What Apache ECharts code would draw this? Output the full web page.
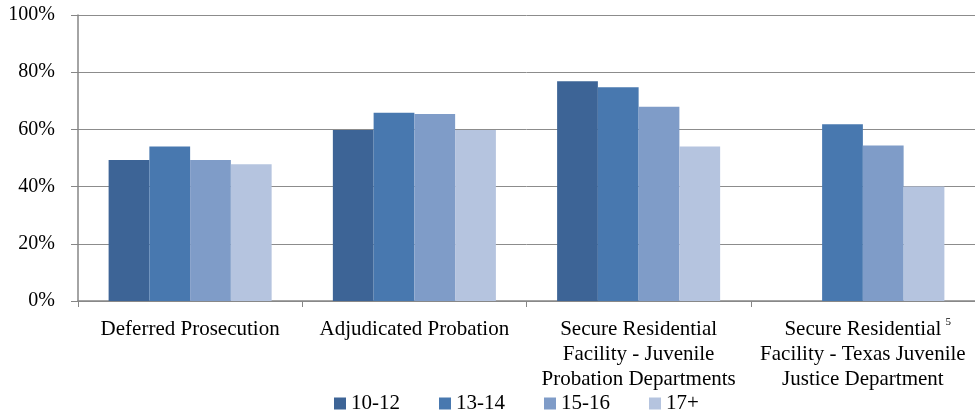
<!DOCTYPE html>
<html>
<head>
<meta charset="utf-8">
<script src="https://cdn.jsdelivr.net/npm/echarts@6/dist/echarts.min.js"></script>
<style>
  html, body { margin: 0; padding: 0; background: #fff; }
  #chart { width: 975px; height: 415px; }
</style>
</head>
<body>
<div id="chart"></div>
<script>
// Share of youth (percent) by placement type and age group
const categories = [
  'Deferred Prosecution',
  'Adjudicated Probation',
  'Secure Residential\nFacility - Juvenile\nProbation Departments',
  '{pad|}Secure Residential{sup|5}\nFacility - Texas Juvenile\nJustice Department'
];
const ageGroups = ['10-12', '13-14', '15-16', '17+'];
const age10to12 = [49.3, 59.8, 76.8, null];
const age13to14 = [54.0, 65.8, 74.7, 61.8];
const age15to16 = [49.3, 65.4, 67.9, 54.4];
const age17plus = [47.8, 59.8, 54.0, 40.0];
const yTicks = [0, 20, 40, 60, 80, 100];

const colors = ['#3D6496', '#4878AF', '#7F9CC8', '#B5C4DF'];
const serif = "'Liberation Serif', 'Times New Roman', serif";
const seriesValues = [age10to12, age13to14, age15to16, age17plus];

const chart = echarts.init(document.getElementById('chart'), null, { renderer: 'canvas' });

chart.setOption({
  animation: false,
  color: colors,
  grid: { left: 78, right: 0, top: 15, bottom: 114, containLabel: false },
  legend: {
    data: ageGroups,
    left: 334,
    top: 393,
    padding: 0,
    icon: 'rect',
    itemWidth: 12,
    itemHeight: 12,
    itemGap: 39,
    textStyle: { fontFamily: serif, fontSize: 21, color: '#000' }
  },
  xAxis: {
    type: 'category',
    data: categories,
    axisLine: { lineStyle: { color: '#868686', width: 1.5 } },
    axisTick: { show: true, length: 6, lineStyle: { color: '#868686' } },
    axisLabel: {
      interval: 0,
      margin: 16,
      fontFamily: serif,
      fontSize: 21,
      lineHeight: 25,
      color: '#000',
      align: 'center',
      rich: {
        pad: { width: 10, fontFamily: serif, fontSize: 21 },
        sup: { fontFamily: serif, fontSize: 11, width: 6, padding: [0, 0, 10, 4], verticalAlign: 'top' }
      }
    }
  },
  yAxis: {
    type: 'value',
    min: yTicks[0],
    max: yTicks[yTicks.length - 1],
    interval: 20,
    axisLine: { show: true, lineStyle: { color: '#868686', width: 1.5 } },
    axisTick: { show: true, length: 7, lineStyle: { color: '#868686' } },
    axisLabel: {
      formatter: '{value}%',
      margin: 23,
      fontFamily: serif,
      fontSize: 20,
      color: '#000'
    },
    splitLine: { show: true, lineStyle: { color: '#8C8C8C', width: 1 } }
  },
  series: ageGroups.map((name, i) => ({
    name: name,
    type: 'bar',
    data: seriesValues[i],
    barGap: '0%',
    barCategoryGap: '27.3%',
    itemStyle: { color: colors[i] }
  }))
});
</script>
</body>
</html>
